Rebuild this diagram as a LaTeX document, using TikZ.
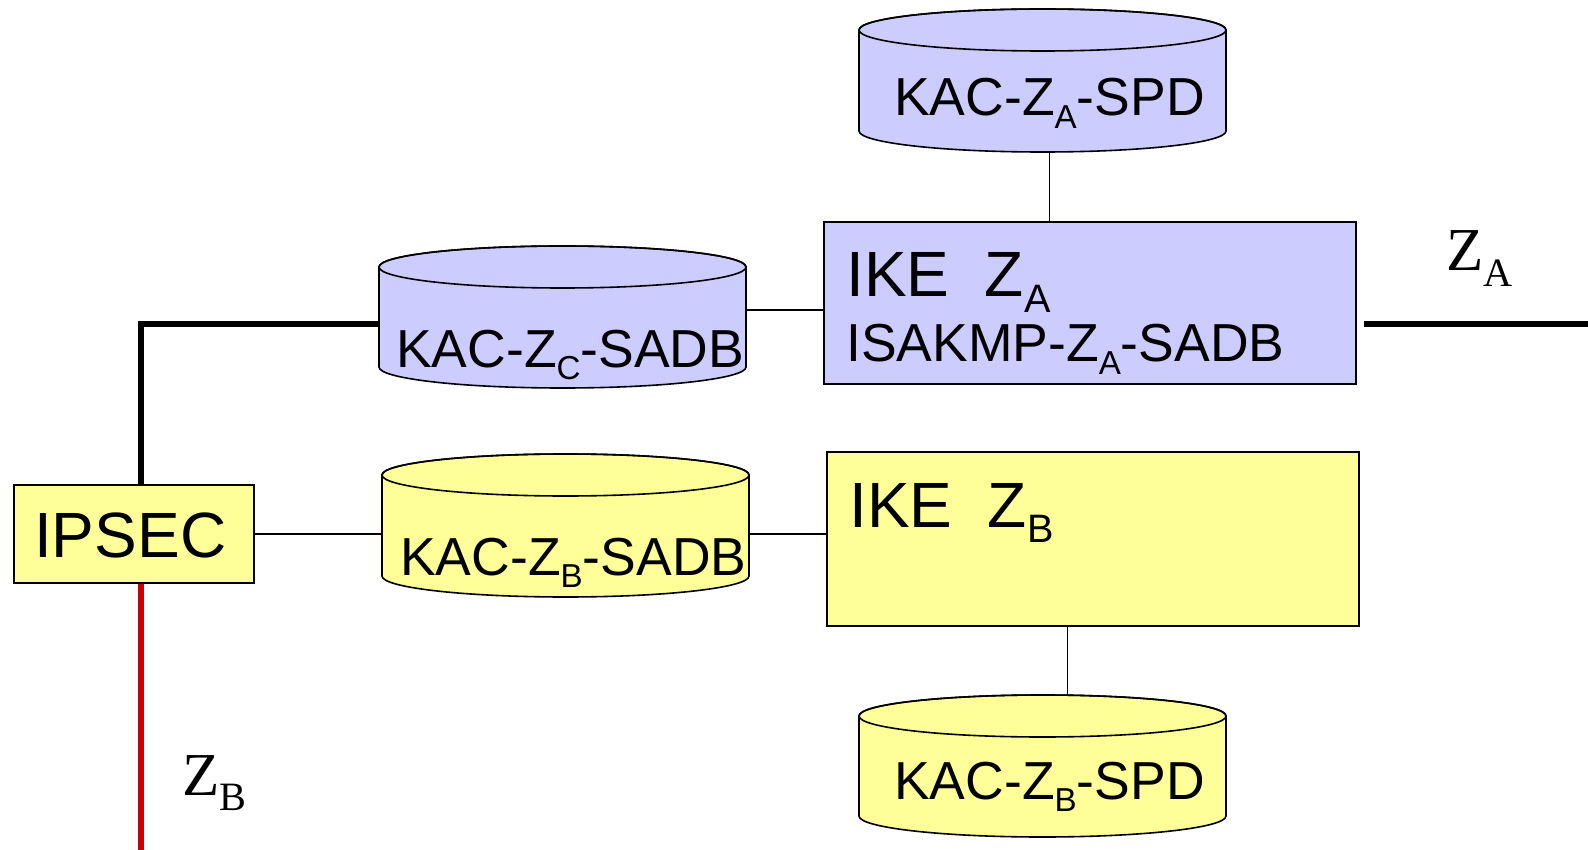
\documentclass[tikz,border=0pt]{standalone}
\usepackage{fontspec}
\setmainfont{Liberation Sans}
\newfontfamily\serifface{Liberation Serif}
\usetikzlibrary{calc}
\definecolor{lblue}{HTML}{CCCCFF}
\definecolor{lyel}{HTML}{FFFF99}
\definecolor{dred}{HTML}{CC0000}
\newcommand\lo[1]{\raisebox{-0.24em}{\scalebox{0.62}{#1}}}
\newcommand\slo[1]{\raisebox{-0.25em}{\scalebox{0.66}{#1}}}
\newcommand\fbig{\fontsize{64}{72}\selectfont}
\newcommand\fmid{\fontsize{53.5}{60}\selectfont}
\newcommand\fser{\serifface\fontsize{61}{66}\selectfont}
\def\cylry{21}
\newcommand\mycyl[6]{%
  \pgfmathsetmacro\cyx{(#3+#4)/2}%
  \pgfmathsetmacro\cyr{(#4-#3)/2}%
  \pgfmathsetmacro\cyw{#4-#3}%
  \pgfmathsetmacro\cyy{(#5+#6)/2}%
  \pgfmathsetmacro\cyh{#6-#5+2*\cylry}%
  \path[cylline, fill=#2] (#3,#5) -- (#3,#6)
     arc[start angle=180,end angle=0,x radius=\cyr,y radius=\cylry]
     -- (#4,#5)
     arc[start angle=0,end angle=-180,x radius=\cyr,y radius=\cylry] -- cycle;
  \draw[cylline] (\cyx,#5) ellipse[x radius=\cyr,y radius=\cylry];
  \node[inner sep=0, minimum width=\cyw*1pt, minimum height=\cyh*1pt] (#1) at (\cyx,\cyy) {};
}
\begin{document}
\begin{tikzpicture}[x=1pt,y=-1pt,
  box/.style={draw, line width=1.6pt, inner sep=0, anchor=north west},
  cylline/.style={draw, line width=1.6pt},
  conn/.style={line width=1.5pt},
  bus/.style={line width=5.5pt},
  lbl/.style={inner sep=0, anchor=base west},
]
\useasboundingbox (0,0) rectangle (1588,850);

% thick network lines
\coordinate (corner) at (141,324);
\coordinate (zbend) at (141,850);
\coordinate (zastart) at (1364,324);
\coordinate (zaend) at (1588,324);

% boxes
\node[box, fill=lyel, minimum width=240pt, minimum height=98pt] (ipsec) at (13,484) {};
\node[box, fill=lblue, minimum width=532pt, minimum height=162pt] (ikeA) at (823,221) {};
\node[box, fill=lyel, minimum width=532pt, minimum height=174pt] (ikeB) at (826,451) {};

% cylinders
\mycyl{zaspd}{lblue}{859}{1226}{30}{131}
\mycyl{zc}{lblue}{379}{746}{267}{367}
\mycyl{zbc}{lyel}{382}{749}{475}{576}
\mycyl{zbspd}{lyel}{859}{1226}{716}{816}

% texts
\node[lbl, font=\fbig] (ipsect) at (34,557) {IPSEC};
\node[lbl, font=\fbig] (ikeAt) at (846,297) {IKE\ \ Z\lo{A}};
\node[lbl, font=\fmid] (isakmp) at (846,362) {ISAKMP-Z\lo{A}-SADB};
\node[lbl, font=\fbig] (ikeBt) at (849,527) {IKE\ \ Z\lo{B}};
\node[lbl, font=\fmid] (zaspdt) at (894,116) {KAC-Z\lo{A}-SPD};
\node[lbl, font=\fmid] (zct) at (396,367) {KAC-Z\lo{C}-SADB};
\node[lbl, font=\fmid] (zbt) at (400,575) {KAC-Z\lo{B}-SADB};
\node[lbl, font=\fmid] (zbspdt) at (894,799) {KAC-Z\lo{B}-SPD};
\node[lbl, font=\fser] (zalbl) at (1446,271) {Z\slo{A}};
\node[lbl, font=\fser] (zblbl) at (182,795) {Z\slo{B}};

% bus lines
\draw[bus, line join=miter] (zc.west |- corner) -- (corner) -- (corner |- ipsec.north);
\draw[bus, dred] (corner |- ipsec.south) -- (zbend);
\draw[bus] (zastart) -- (zaend);

% thin connectors
\coordinate (mA) at ($(zc.east)!.5!(ikeA.west)$);
\draw[conn] (zc.east |- mA) -- (ikeA.west |- mA);
\draw[conn] (ipsec.east) -- (ipsec.east -| zbc.west);
\draw[conn] (zbc.east |- ipsec.east) -- (ikeB.west |- ipsec.east);
\coordinate (vA) at ($(zaspd.south)!.15!(ikeA.north)$);
\draw[conn] (vA |- zaspd.south) -- (vA |- ikeA.north);
\coordinate (vB) at ($(ikeB.south)!.5!(zbspd.north)$);
\draw[conn] (vB |- ikeB.south) -- (vB |- zbspd.north);
\end{tikzpicture}
\end{document}
